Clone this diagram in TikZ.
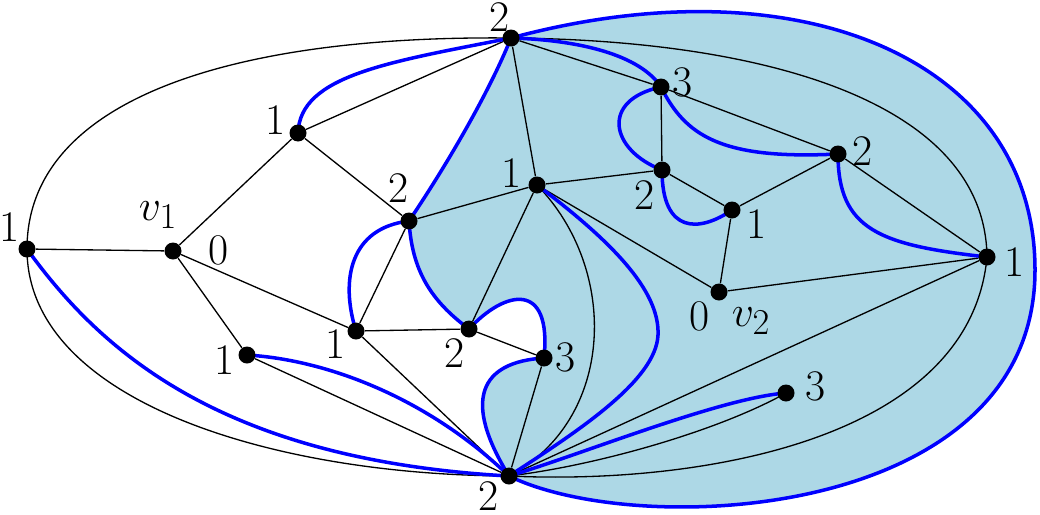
\documentclass[tikz,border=0pt]{standalone}
\definecolor{regionfill}{RGB}{173,216,230}
\pgfdeclarelayer{background}
\pgfsetlayers{background,main}
\begin{document}
\begin{tikzpicture}[x=0.02cm,y=-0.02cm,
  vtx/.style={circle,fill=black,inner sep=0pt,minimum size=0.34cm},
  lbl/.style={inner sep=0pt,font=\Huge},
  edge/.style={line width=0.75pt},
  bedge/.style={blue,line width=2pt}]
\useasboundingbox (0,0) rectangle (1040,514);
% vertices
\node[vtx] (T) at (511,38) {};
\node[vtx] (B) at (509,476) {};
\node[vtx] (L) at (27,249) {};
\node[vtx] (v1) at (173,251) {};
\node[vtx] (a) at (298,133) {};
\node[vtx] (b) at (409,221) {};
\node[vtx] (c) at (356,331) {};
\node[vtx] (d) at (247,355) {};
\node[vtx] (e) at (469,329) {};
\node[vtx] (f) at (544,358) {};
\node[vtx] (g) at (537,185) {};
\node[vtx] (h) at (661,87) {};
\node[vtx] (i) at (662,170) {};
\node[vtx] (j) at (732,210) {};
\node[vtx] (v2) at (719,292) {};
\node[vtx] (k) at (838,154) {};
\node[vtx] (m) at (987,257) {};
\node[vtx] (n) at (786,393) {};
\coordinate (R) at (1035,270);
\coordinate (gB) at (658,335);
% labels
\node[lbl] (lT) at (500,17) {2};
\node[lbl] (lB) at (489,496) {2};
\node[lbl] (lL) at (10,227) {1};
\node[lbl] (lv1) at (158,215) {$v_1$};
\node[lbl] (l0v1) at (219,250) {0};
\node[lbl] (la) at (276,120) {1};
\node[lbl] (lb) at (399,188) {2};
\node[lbl] (lc) at (336,344) {1};
\node[lbl] (ld) at (225,360) {1};
\node[lbl] (le) at (455,353) {2};
\node[lbl] (lf) at (566,357) {3};
\node[lbl] (lg) at (512,173) {1};
\node[lbl] (lh) at (683,82) {3};
\node[lbl] (li) at (645,195) {2};
\node[lbl] (lj) at (757,224) {1};
\node[lbl] (l0v2) at (700,316) {0};
\node[lbl] (lv2) at (751,321) {$v_2$};
\node[lbl] (lk) at (863,151) {2};
\node[lbl] (lm) at (1015,262) {1};
\node[lbl] (ln) at (816,386) {3};
\begin{pgfonlayer}{background}
% shaded region
\fill[regionfill] (T.center) .. controls (490,90) and (450,160) .. (b.center)
  .. controls (412,270) and (430,300) .. (e.center)
  .. controls (505,290) and (552,280) .. (f.center)
  .. controls (480,362) and (462,400) .. (B.center)
  .. controls (640,540) and (1035,520) .. (R)
  .. controls (1035,60) and (800,-40) .. (T.center) -- cycle;
% black edges
\draw[edge] (L) -- (v1) (v1) -- (a) (v1) -- (c) (v1) -- (d)
  (a) -- (T) (a) -- (b) (b) -- (g) (b) -- (c) (c) -- (e) (c) -- (B)
  (d) -- (B) (e) -- (g) (e) -- (f) (f) -- (B) (g) -- (T) (g) -- (i)
  (g) -- (v2) (T) -- (h) (h) -- (i) (h) -- (k) (i) -- (j) (j) -- (k)
  (j) -- (v2) (v2) -- (m) (k) -- (m) (m) -- (B);
\draw[edge] (L.center) .. controls (27,100) and (230,35) .. (T.center);
\draw[edge] (L.center) .. controls (27,400) and (270,475) .. (B.center);
\draw[edge] (T.center) .. controls (760,40) and (985,100) .. (m.center);
\draw[edge] (m.center) .. controls (970,440) and (700,485) .. (B.center);
\draw[edge] (n.center) .. controls (720,430) and (600,465) .. (B.center);
\draw[edge] (g.center) .. controls (620,270) and (615,420) .. (B.center);
% blue edges
\draw[bedge] (T.center) .. controls (490,90) and (450,160) .. (b.center)
  .. controls (412,270) and (430,300) .. (e.center)
  .. controls (505,290) and (552,280) .. (f.center)
  .. controls (480,362) and (462,400) .. (B.center)
  .. controls (640,540) and (1035,520) .. (R)
  .. controls (1035,60) and (800,-40) .. (T.center);
\draw[bedge] (a.center) .. controls (300,75) and (390,62) .. (T.center);
\draw[bedge] (b.center) .. controls (350,228) and (340,280) .. (c.center);
\draw[bedge] (d.center) .. controls (330,360) and (430,400) .. (B.center);
\draw[bedge] (L.center) .. controls (100,350) and (220,460) .. (B.center);
\draw[bedge] (n.center) .. controls (720,398) and (580,455) .. (B.center);
\draw[bedge] (g.center) .. controls (610,240) and (660,290) .. (gB)
  .. controls (656,380) and (580,430) .. (B.center);
\draw[bedge] (T.center) .. controls (580,40) and (640,55) .. (h.center);
\draw[bedge] (h.center) .. controls (600,100) and (610,150) .. (i.center);
\draw[bedge] (h.center) .. controls (685,135) and (720,160) .. (k.center);
\draw[bedge] (i.center) .. controls (662,235) and (700,232) .. (j.center);
\draw[bedge] (k.center) .. controls (838,230) and (880,245) .. (m.center);
\end{pgfonlayer}
\end{tikzpicture}
\end{document}
